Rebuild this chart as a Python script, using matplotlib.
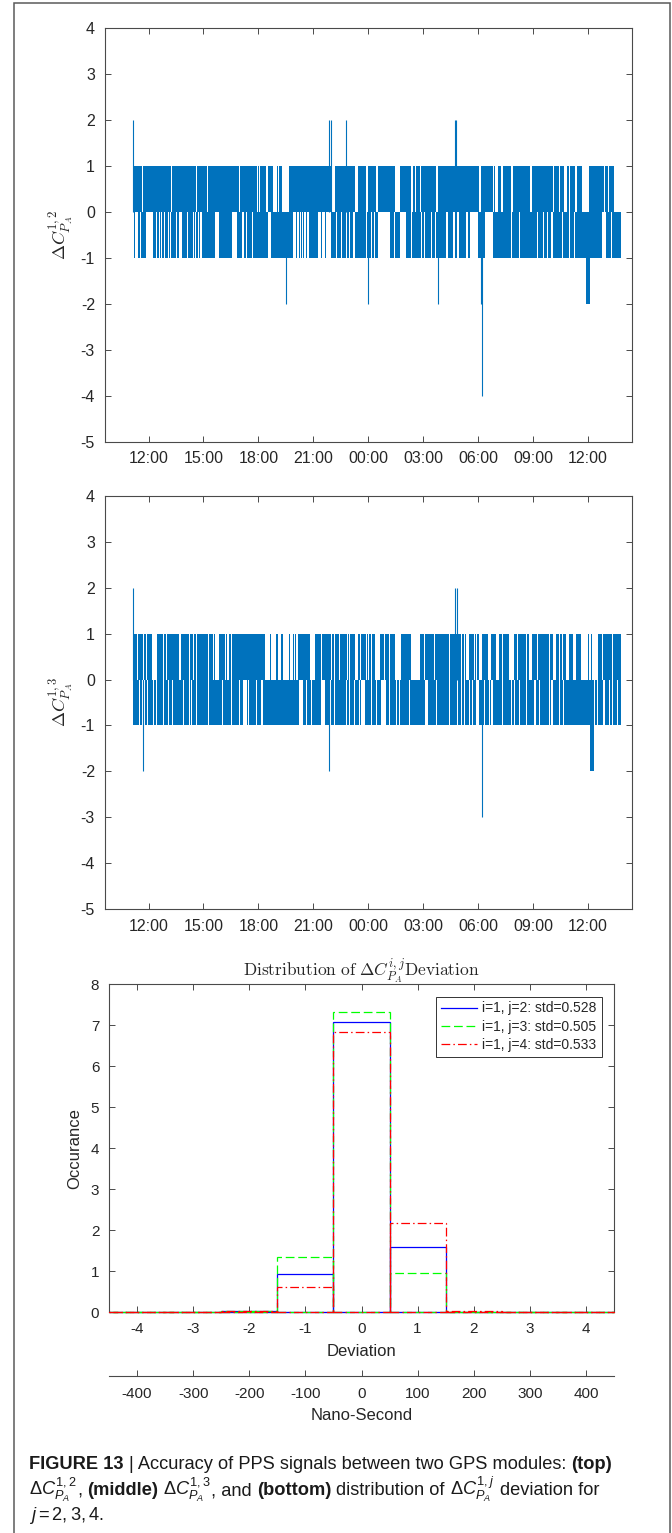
import matplotlib
matplotlib.use("Agg")
import matplotlib.pyplot as plt
from matplotlib.ticker import FuncFormatter
from matplotlib.patches import Rectangle
from matplotlib.lines import Line2D

plt.rcParams['font.family'] = ['Liberation Sans', 'DejaVu Sans']
plt.rcParams['mathtext.fontset'] = 'custom'
plt.rcParams['mathtext.rm'] = 'Liberation Sans'
plt.rcParams['mathtext.it'] = 'Liberation Sans:italic'
plt.rcParams['mathtext.bf'] = 'Liberation Sans:bold'
plt.rcParams['axes.unicode_minus'] = False

# ---------------- data ----------------
# time axis: hours after 12:00 of the first day
START_CLOCK = 12
time_tick_hours = list(range(0, 25, 3))

# panel 1: Delta C^{1,2}
p1_up_span = (-0.85, 25.44)
p1_up_thin = [-0.34, 1.25, 1.72, 1.88, 2.10, 2.27, 2.63, 3.23, 4.33, 4.96, 5.94, 6.07, 6.24,
              7.11, 9.04, 10.50, 14.59, 14.72, 14.84, 15.96, 16.85, 22.98, 23.17, 24.44, 24.89]
p1_up_wide = [(6.41, 6.51), (6.78, 7.00), (7.29, 7.67), (10.04, 10.17), (11.29, 11.44),
              (11.89, 11.99), (12.44, 12.53), (13.48, 13.75), (14.35, 14.45), (15.72, 15.81),
              (18.03, 18.16), (18.80, 18.85), (18.94, 19.07), (19.25, 19.34), (19.80, 19.89),
              (20.83, 20.94), (22.07, 22.16), (22.40, 22.49), (22.71, 22.84), (23.31, 23.38),
              (23.67, 24.04), (25.08, 25.16)]
p1_lo_span = (-0.82, 25.80)
p1_lo_thin = [-0.59, -0.43, 0.45, 0.59, 0.72, 0.86, 1.08, 1.21, 1.39, 1.52, 1.94, 2.12, 2.27,
              2.45, 2.58, 2.74, 3.14, 3.36, 4.01, 4.23, 5.36, 10.26, 10.53, 10.80, 10.99, 11.71,
              11.89, 12.17, 12.35, 13.35, 13.44, 14.35, 14.72, 14.90, 15.08, 15.26, 15.44, 17.12,
              18.16, 19.62, 19.80, 20.25, 20.44, 20.71, 20.94, 21.25, 21.43, 21.56, 21.80, 22.25,
              22.62, 22.98, 23.25, 23.44, 23.67, 25.26, 25.53]
p1_lo_wide = [(-0.72, -0.64), (-0.15, 0.26), (1.65, 1.83), (2.81, 2.91), (3.63, 3.87),
              (4.54, 4.85), (5.09, 5.22), (5.64, 5.69), (6.54, 6.67), (7.87, 8.05), (8.12, 8.24),
              (8.29, 8.33), (8.40, 8.43), (8.48, 8.60), (8.66, 8.75), (9.26, 9.42), (9.47, 9.61),
              (9.67, 9.98), (11.17, 11.29), (12.53, 13.17), (13.72, 14.08), (15.63, 15.72),
              (16.26, 16.36), (16.63, 16.72), (16.85, 16.94), (17.34, 17.43), (17.56, 17.98),
              (18.39, 18.80), (21.98, 22.07), (24.75, 25.00)]
p1_spike_t = [-0.83, 9.87, 9.95, 10.79, 16.74, 16.81, 7.52, 11.99, 15.80, 18.17, 18.21]
p1_spike_v = [2, 2, 2, 2, 2, 2, -2, -2, -2, -2, -4]
p1_minus2_runs = [(23.86, 24.13)]

# panel 2: Delta C^{1,3}
p2_up_span = (-0.86, 25.80)
p2_up_thin = [-0.74, -0.59, -0.46, -0.10, 0.63, 0.81, 0.99, 1.17, 2.09, 2.23, 2.45, 2.63, 2.81,
              3.27, 3.54, 4.54, 4.72, 9.26, 9.44, 9.98, 10.17, 10.44, 10.86, 10.99, 11.59, 11.89,
              12.02, 12.17, 12.90, 13.17, 14.94, 15.08, 15.36, 15.63, 15.81, 16.18, 16.45, 17.07,
              17.25, 17.79, 17.92, 19.34, 19.52, 20.16, 20.40, 20.62, 21.25, 21.53, 21.71, 21.89,
              22.43, 22.62, 24.80, 24.98, 25.35, 25.53]
p2_up_wide = [(-0.32, -0.25), (0.17, 0.48), (1.67, 1.76), (3.63, 3.87), (4.18, 4.25),
              (4.30, 4.41), (6.36, 6.64), (6.67, 6.95), (7.07, 7.24), (7.35, 7.65), (7.70, 7.86),
              (7.92, 7.97), (8.03, 8.16), (8.80, 9.11), (11.29, 11.44), (12.35, 12.63),
              (13.48, 13.77), (14.35, 14.81), (17.34, 17.52), (18.03, 18.21), (18.52, 18.70),
              (18.98, 19.16), (19.70, 19.98), (20.80, 20.94), (22.07, 22.25), (22.80, 22.98),
              (23.17, 23.35), (23.62, 23.98), (24.07, 24.14), (24.20, 24.53)]
p2_lo_span = (-0.83, 25.80)
p2_lo_thin = [-0.68, -0.50, -0.32, -0.23, 0.26, 0.45, 0.63, 0.81, 1.08, 1.32, 1.45, 1.72, 1.90,
              2.23, 2.36, 2.63, 2.91, 3.27, 3.63, 4.05, 4.18, 4.54, 4.72, 4.96, 5.45, 5.64, 5.91,
              8.62, 8.71, 8.89, 9.80, 9.95, 10.17, 10.35, 10.62, 10.80, 10.99, 11.26, 11.53,
              11.99, 12.17, 12.44, 13.17, 13.35, 13.53, 13.72, 13.90, 14.26, 15.72, 16.18, 16.45,
              16.63, 16.88, 17.07, 17.25, 17.34, 17.52, 17.70, 18.16, 18.34, 18.61, 18.98, 19.34,
              19.52, 19.80, 19.98, 20.25, 20.44, 20.62, 20.89, 21.34, 21.53, 21.71, 21.89, 22.25,
              22.43, 24.35, 24.53, 24.71, 25.16, 25.35, 25.62]
p2_lo_wide = [(-0.10, -0.01), (5.18, 5.36), (6.13, 6.27), (8.20, 8.44), (9.44, 9.62),
              (11.62, 11.81), (12.68, 12.99), (15.08, 15.26), (17.88, 18.07), (18.70, 18.83),
              (21.07, 21.16), (21.98, 22.07), (22.62, 22.71), (24.80, 24.95)]
p2_spike_t = [-0.85, 16.74, 16.85, -0.33, 9.83, 18.21]
p2_spike_v = [2, 2, 2, -2, -2, -3]
p2_minus2_runs = [(24.08, 24.32)]

# histogram of deviations
dev_bins = [-4, -3, -2, -1, 0, 1, 2, 3, 4]
occ_j2 = [0, 0.005, 0.03, 0.93, 7.07, 1.60, 0.01, 0, 0]
occ_j3 = [0, 0, 0.02, 1.34, 7.31, 0.965, 0.01, 0, 0]
occ_j4 = [0, 0, 0.02, 0.61, 6.83, 2.17, 0.03, 0, 0]
legend_labels = ["i=1, j=2: std=0.528", "i=1, j=3: std=0.505", "i=1, j=4: std=0.533"]
ns_ticks = list(range(-400, 401, 100))

caption_lines = [
    [("FIGURE 13", 'b', True), ("| Accuracy of PPS signals between two GPS modules:", 'n', True),
     ("(top)", 'b', False)],
    [(r"$\Delta C^{1,2}_{P_A}$", 'm', False), (",", 'n', True), ("(middle)", 'b', True),
     (r"$\Delta C^{1,3}_{P_A}$", 'm', False), (", and", 'n', True), ("(bottom)", 'b', True),
     ("distribution of", 'n', True), (r"$\Delta C^{1,j}_{P_A}$", 'm', True),
     ("deviation for", 'n', False)],
    [(r"$j=2,3,4.$", 'm', False)],
]

# ---------------- style ----------------
W, H = 672, 1533
BLUE = '#0072BD'
AXC = '#4a4a4a'
TXT = '#262626'
THIN = 0.036

fig = plt.figure(figsize=(W / 100, H / 100), dpi=100)


def frac(l, t, r, b):
    return [l / W, 1 - b / H, (r - l) / W, (b - t) / H]


def band_runs(span, thin, wide):
    gaps = sorted(list(wide) + [(c - THIN / 2, c + THIN / 2) for c in thin])
    runs, cur = [], span[0]
    for a, b in gaps:
        if a > cur:
            runs.append((cur, a - cur))
        cur = max(cur, b)
    if span[1] > cur:
        runs.append((cur, span[1] - cur))
    return runs


def style_axes(ax, size, pad):
    for s in ax.spines.values():
        s.set_color(AXC)
        s.set_linewidth(0.8)
    ax.tick_params(direction='in', length=4.5, width=0.7, top=True, right=True,
                   labelsize=size, colors=AXC, labelcolor=TXT, pad=pad)


def ts_panel(rect, up, lo, spikes_t, spikes_v, m2runs, ylabel):
    ax = fig.add_axes(rect)
    ax.broken_barh(band_runs(*up), (0, 1), facecolors=BLUE, linewidth=0)
    ax.broken_barh(band_runs(*lo), (-1, 1), facecolors=BLUE, linewidth=0)
    ax.broken_barh([(a, b - a) for a, b in m2runs], (-2, 2), facecolors=BLUE, linewidth=0)
    ax.vlines(spikes_t, 0, spikes_v, colors=BLUE, linewidth=0.8)
    ax.set_xlim(-2.40, 26.37)
    ax.set_ylim(-5, 4)
    ax.set_yticks(range(-5, 5))
    ax.set_xticks(time_tick_hours)
    ax.xaxis.set_major_formatter(
        FuncFormatter(lambda h, p: f"{int(round(START_CLOCK + h)) % 24:02d}:00"))
    style_axes(ax, 11.5, 7)
    ax.set_ylabel(ylabel, fontsize=13, math_fontfamily='cm', color=TXT, labelpad=3)
    return ax


ts_panel(frac(104.6, 27.7, 631.5, 441.7), (p1_up_span, p1_up_thin, p1_up_wide),
         (p1_lo_span, p1_lo_thin, p1_lo_wide), p1_spike_t, p1_spike_v, p1_minus2_runs,
         r'$\Delta C^{1,2}_{P_A}$')
ts_panel(frac(104.6, 496, 631.5, 909), (p2_up_span, p2_up_thin, p2_up_wide),
         (p2_lo_span, p2_lo_thin, p2_lo_wide), p2_spike_t, p2_spike_v, p2_minus2_runs,
         r'$\Delta C^{1,3}_{P_A}$')

# ---------------- histogram ----------------
ax3 = fig.add_axes(frac(109, 984, 614, 1312.3))
series = [(occ_j2, '#0000FF', None), (occ_j3, '#00FF00', (7, 3)),
          (occ_j4, '#FF0000', (7, 2.5, 1.2, 2.5))]
handles = []
for occ, col, dash in series:
    ax3.bar(dev_bins, occ, width=1, fill=False, edgecolor=col, linewidth=0.9,
            linestyle='-' if dash is None else (0, dash), zorder=3, clip_on=False)
    h = Line2D([], [], color=col, linewidth=0.9)
    if dash is not None:
        h.set_dashes(dash)
    handles.append(h)
ax3.set_xlim(-4.5, 4.5)
ax3.set_ylim(0, 8)
ax3.set_xticks(dev_bins)
ax3.set_yticks(range(0, 9))
style_axes(ax3, 11, 7)
ax3.set_xlabel('Deviation', fontsize=12, color=TXT, labelpad=6)
ax3.set_ylabel('Occurance', fontsize=12, color=TXT, labelpad=6)
ax3.set_title(r'$\mathrm{Distribution\ of\ }\Delta C^{i,j}_{P_A}\mathrm{Deviation}$',
              fontsize=12.5, math_fontfamily='cm', color=TXT, pad=5)
leg = ax3.legend(handles, legend_labels, loc='upper right', fontsize=10, frameon=True,
                 fancybox=False, edgecolor='#333333', handlelength=2.6, handletextpad=0.35,
                 labelspacing=0.3, borderpad=0.35, borderaxespad=0.9, framealpha=1)
leg.get_frame().set_linewidth(0.7)
leg.set_zorder(5)
for t in leg.get_texts():
    t.set_color(TXT)

sec = ax3.secondary_xaxis(-(1376 - 1312.3) / (1312.3 - 984),
                          functions=(lambda d: d * 100, lambda n: n / 100))
sec.set_xticks(ns_ticks)
sec.spines['bottom'].set_color(AXC)
sec.spines['bottom'].set_linewidth(0.8)
sec.tick_params(direction='in', length=4.5, width=0.7, labelsize=11, colors=AXC,
                labelcolor=TXT, pad=8)
sec.set_xlabel('Nano-Second', fontsize=12, color=TXT, labelpad=5)

# ---------------- frame ----------------
fig.add_artist(Rectangle((14 / W, -0.01), (670 - 14) / W, 1 - 3 / H + 0.01,
                         transform=fig.transFigure, fill=False, edgecolor='#5a5a5a',
                         linewidth=1.1))

# ---------------- caption ----------------
renderer = fig.canvas.get_renderer()


def text_w(s, size, weight='normal'):
    t = fig.text(0, 0, s, fontsize=size, fontweight=weight)
    w = t.get_window_extent(renderer).width
    t.remove()
    return w


def place_runs(runs, x0, ybase, size, draw=True):
    x = x0
    space = text_w("a a", size) - text_w("aa", size)
    for s, st, sp in runs:
        t = fig.text(x / W, 1 - ybase / H, s, fontsize=size, va='baseline', ha='left',
                     color='#1a1a1a', fontweight='bold' if st == 'b' else 'normal')
        x += t.get_window_extent(renderer).width
        if not draw:
            t.remove()
        if sp:
            x += space
    return x


size0 = 12.0
w0 = place_runs(caption_lines[0], 29, 1469, size0, draw=False) - 29
cap_size = size0 * 584 / w0
for runs, yb in zip(caption_lines, [1469, 1495, 1520]):
    place_runs(runs, 29, yb, cap_size)

fig.savefig('out.png', dpi=100)
